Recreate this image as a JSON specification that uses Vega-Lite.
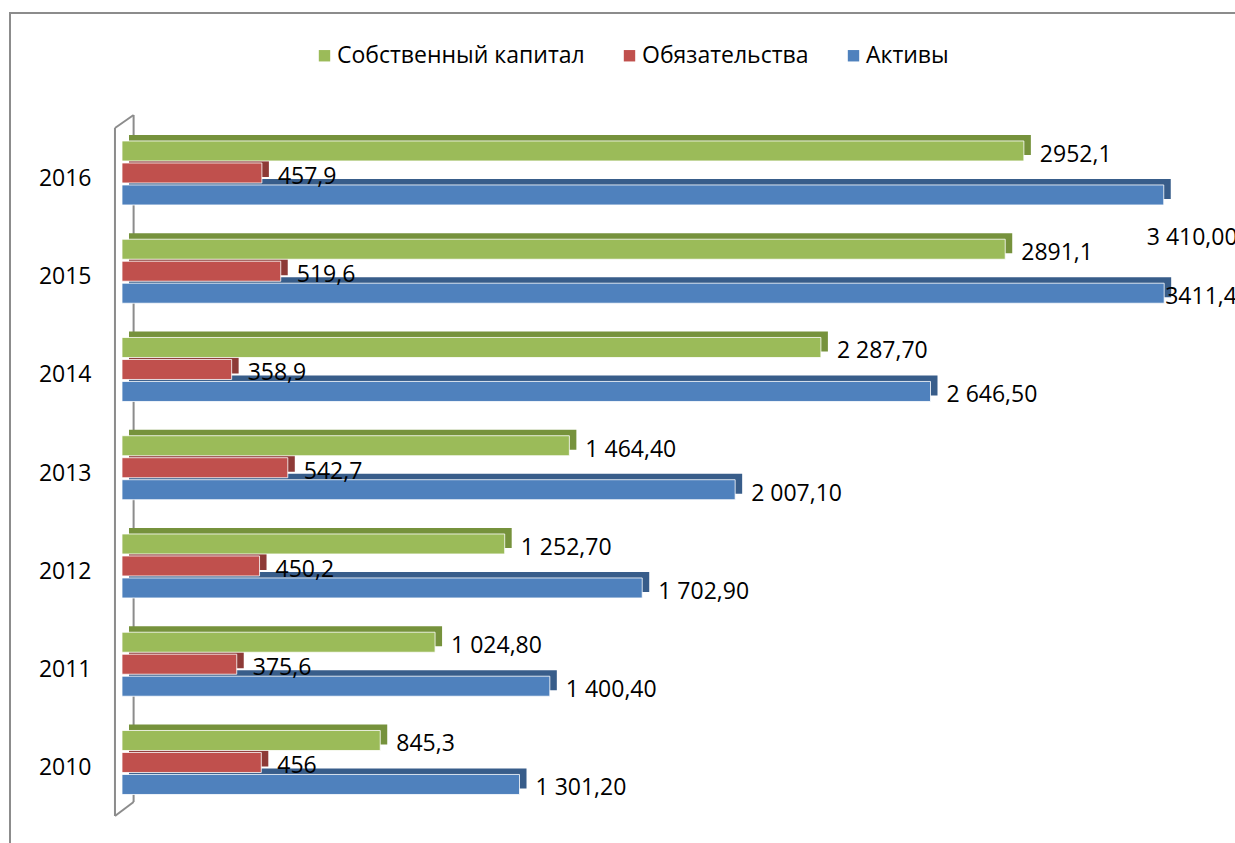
{
  "$schema": "https://vega.github.io/schema/vega-lite/v6.json",
  "width": 1229,
  "height": 834,
  "autosize": {"type": "none"},
  "padding": {"left": 10, "top": 13, "right": -4, "bottom": -4},
  "background": "white",
  "config": {
    "view": {"stroke": "#8c8c8c", "strokeWidth": 2},
    "font": "Open Sans",
    "axisY": {"domain": false, "ticks": false, "tickSize": 0, "labelPadding": 0, "offset": -81, "labelOffset": 6, "labelFontSize": 23, "labelFont": "Open Sans", "labelColor": "black", "grid": false},
    "axisX": {"disable": true}
  },
  "datasets": {
    "fin": [
      {"year": "2016", "series": "Собственный капитал", "value": 2952.1, "label": "2952,1"},
      {"year": "2016", "series": "Обязательства", "value": 457.9, "label": "457,9"},
      {"year": "2016", "series": "Активы", "value": 3410.0, "label": "3 410,00"},
      {"year": "2015", "series": "Собственный капитал", "value": 2891.1, "label": "2891,1"},
      {"year": "2015", "series": "Обязательства", "value": 519.6, "label": "519,6"},
      {"year": "2015", "series": "Активы", "value": 3411.4, "label": "3411,4"},
      {"year": "2014", "series": "Собственный капитал", "value": 2287.7, "label": "2 287,70"},
      {"year": "2014", "series": "Обязательства", "value": 358.9, "label": "358,9"},
      {"year": "2014", "series": "Активы", "value": 2646.5, "label": "2 646,50"},
      {"year": "2013", "series": "Собственный капитал", "value": 1464.4, "label": "1 464,40"},
      {"year": "2013", "series": "Обязательства", "value": 542.7, "label": "542,7"},
      {"year": "2013", "series": "Активы", "value": 2007.1, "label": "2 007,10"},
      {"year": "2012", "series": "Собственный капитал", "value": 1252.7, "label": "1 252,70"},
      {"year": "2012", "series": "Обязательства", "value": 450.2, "label": "450,2"},
      {"year": "2012", "series": "Активы", "value": 1702.9, "label": "1 702,90"},
      {"year": "2011", "series": "Собственный капитал", "value": 1024.8, "label": "1 024,80"},
      {"year": "2011", "series": "Обязательства", "value": 375.6, "label": "375,6"},
      {"year": "2011", "series": "Активы", "value": 1400.4, "label": "1 400,40"},
      {"year": "2010", "series": "Собственный капитал", "value": 845.3, "label": "845,3"},
      {"year": "2010", "series": "Обязательства", "value": 456, "label": "456"},
      {"year": "2010", "series": "Активы", "value": 1301.2, "label": "1 301,20"}
    ],
    "wall": [{"part": "wall"}]
  },
  "layer": [
    {
      "data": {"name": "wall"},
      "mark": {"type": "rule", "color": "#8c8c8c", "strokeWidth": 2, "yOffset": -58, "y2Offset": 39.5},
      "encoding": {
        "x": {"datum": 38, "type": "quantitative", "title": null},
        "y": {"datum": "2016", "type": "nominal", "title": null},
        "y2": {"datum": "2010"}
      }
    },
    {
      "data": {"name": "fin"},
      "transform": [{"filter": "datum.series === 'Собственный капитал'"}],
      "mark": {"type": "bar", "height": 20, "yOffset": -28, "xOffset": 7, "x2Offset": 7, "color": "#76923C"},
      "encoding": {
        "y": {"field": "year", "type": "nominal", "title": null},
        "x": {"field": "value", "type": "quantitative", "title": null},
        "x2": {"datum": 0}
      }
    },
    {
      "data": {"name": "fin"},
      "transform": [{"filter": "datum.series === 'Обязательства'"}],
      "mark": {"type": "bar", "height": 20, "yOffset": -6, "xOffset": 7, "x2Offset": 7, "color": "#8E3A37"},
      "encoding": {
        "y": {"field": "year", "type": "nominal", "title": null},
        "x": {"field": "value", "type": "quantitative", "title": null},
        "x2": {"datum": 0}
      }
    },
    {
      "data": {"name": "fin"},
      "transform": [{"filter": "datum.series === 'Активы'"}],
      "mark": {"type": "bar", "height": 20, "yOffset": 16, "xOffset": 7, "x2Offset": 7, "color": "#385D8A"},
      "encoding": {
        "y": {"field": "year", "type": "nominal", "title": null},
        "x": {"field": "value", "type": "quantitative", "title": null},
        "x2": {"datum": 0}
      }
    },
    {
      "data": {"name": "fin"},
      "mark": {"type": "bar", "stroke": "white", "strokeWidth": 1, "strokeOpacity": 0.8},
      "encoding": {
        "y": {
          "field": "year", "type": "nominal", "title": null,
          "scale": {"domain": ["2016", "2015", "2014", "2013", "2012", "2011", "2010"], "paddingInner": 0.3486, "paddingOuter": 0.9186, "align": 0.709}
        },
        "yOffset": {
          "field": "series", "type": "nominal",
          "scale": {"domain": ["Собственный капитал", "Обязательства", "Активы"], "paddingInner": 0.09, "paddingOuter": 0}
        },
        "x": {
          "field": "value", "type": "quantitative", "title": null,
          "scale": {"domain": [-366.6, 3656.3], "nice": false, "zero": false}
        },
        "x2": {"datum": 0},
        "color": {
          "field": "series", "type": "nominal",
          "scale": {"domain": ["Собственный капитал", "Обязательства", "Активы"], "range": ["#9BBB59", "#C0504D", "#4F81BD"]},
          "legend": {"orient": "none", "legendX": 303, "legendY": 31, "direction": "horizontal", "columns": 3, "title": null, "symbolType": "square", "symbolSize": 130, "symbolStrokeWidth": 0, "labelFontSize": 23, "labelFont": "Open Sans", "labelColor": "black", "labelLimit": 500, "columnPadding": 33, "labelOffset": 1}
        }
      }
    },
    {
      "data": {"name": "fin"},
      "transform": [{"filter": "!(datum.series === 'Активы' && (datum.year === '2016' || datum.year === '2015'))"}],
      "mark": {"type": "text", "align": "left", "baseline": "middle", "dx": 16, "dy": 4, "fontSize": 23, "font": "Open Sans", "color": "black"},
      "encoding": {
        "y": {"field": "year", "type": "nominal", "title": null},
        "yOffset": {"field": "series", "type": "nominal"},
        "x": {"field": "value", "type": "quantitative", "title": null},
        "text": {"field": "label"}
      }
    },
    {
      "data": {"name": "fin"},
      "transform": [{"filter": "datum.series === 'Активы' && datum.year === '2016'"}],
      "mark": {"type": "text", "align": "left", "baseline": "middle", "dx": -17, "dy": 43, "fontSize": 23, "font": "Open Sans", "color": "black"},
      "encoding": {
        "y": {"field": "year", "type": "nominal", "title": null},
        "yOffset": {"field": "series", "type": "nominal"},
        "x": {"field": "value", "type": "quantitative", "title": null},
        "text": {"field": "label"}
      }
    },
    {
      "data": {"name": "fin"},
      "transform": [{"filter": "datum.series === 'Активы' && datum.year === '2015'"}],
      "mark": {"type": "text", "align": "left", "baseline": "middle", "dx": 1, "dy": 4, "fontSize": 23, "font": "Open Sans", "color": "black"},
      "encoding": {
        "y": {"field": "year", "type": "nominal", "title": null},
        "yOffset": {"field": "series", "type": "nominal"},
        "x": {"field": "value", "type": "quantitative", "title": null},
        "text": {"field": "label"}
      }
    },
    {
      "data": {"name": "wall"},
      "mark": {"type": "rule", "color": "#8c8c8c", "strokeWidth": 2, "yOffset": -45, "y2Offset": 53.5},
      "encoding": {
        "x": {"datum": -23, "type": "quantitative", "title": null},
        "y": {"datum": "2016", "type": "nominal", "title": null},
        "y2": {"datum": "2010"}
      }
    },
    {
      "data": {"name": "wall"},
      "mark": {"type": "rule", "color": "#8c8c8c", "strokeWidth": 2, "yOffset": -45, "y2Offset": -58},
      "encoding": {
        "x": {"datum": -23, "type": "quantitative", "title": null},
        "x2": {"datum": 38},
        "y": {"datum": "2016", "type": "nominal", "title": null},
        "y2": {"datum": "2016"}
      }
    },
    {
      "data": {"name": "wall"},
      "mark": {"type": "rule", "color": "#8c8c8c", "strokeWidth": 2, "yOffset": 53.5, "y2Offset": 39.5},
      "encoding": {
        "x": {"datum": -23, "type": "quantitative", "title": null},
        "x2": {"datum": 38},
        "y": {"datum": "2010", "type": "nominal", "title": null},
        "y2": {"datum": "2010"}
      }
    }
  ]
}
